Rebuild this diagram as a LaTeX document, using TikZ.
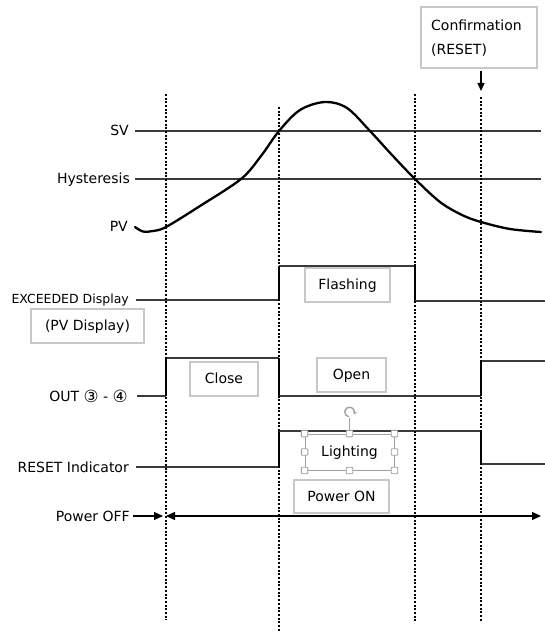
\documentclass[tikz,border=0pt]{standalone}
\usepackage{fontspec}
\setmainfont{DejaVu Sans}
\usetikzlibrary{arrows.meta}
\definecolor{boxgray}{HTML}{C8C8C8}
\definecolor{handlegray}{HTML}{A0A0A0}
\definecolor{sigcol}{HTML}{3A3A3A}
\newcommand{\circd}[1]{\raisebox{-0.08em}{\scalebox{1.2}{#1}}}
\begin{document}
\begin{tikzpicture}[x=1pt,y=-1pt,
  lbl/.style={anchor=base east, inner sep=0pt, font=\fontsize{14}{16}\selectfont},
  frame/.style={draw=boxgray, line width=1.3pt, inner sep=0pt},
  gbox/.style={frame, text depth=1pt, font=\fontsize{14}{16}\selectfont},
  sig/.style={draw=sigcol, line width=1.5pt},
  vedge/.style={draw=black, line width=2.4pt},
  dotline/.style={draw=black, line width=2pt, dash pattern=on 2pt off 1.7pt},
  arr/.style={-{Triangle[length=9pt,width=8pt]}, line width=1.3pt},
  handle/.style={draw=handlegray, fill=white, line width=0.9pt, rounded corners=0.8pt, minimum size=6.5pt, inner sep=0pt}
]
\useasboundingbox (0,0) rectangle (545,631);

% signal lines
\draw[sig] (135,131) -- (541,131);
\draw[sig] (135,179) -- (541,179);

% EXCEEDED display
\draw[sig] (136,300) -- (279,300);
\draw[vedge] (279,300) -- (279,266);
\draw[sig] (279,266) -- (415,266);
\draw[vedge] (415,266) -- (415,301);
\draw[sig] (415,301) -- (545,301);

% OUT
\draw[sig] (137,396) -- (166,396);
\draw[vedge] (166,396) -- (166,358);
\draw[sig] (166,358) -- (279,358);
\draw[vedge] (279,358) -- (279,396);
\draw[sig] (279,396) -- (481,396);
\draw[vedge] (481,396) -- (481,361);
\draw[sig] (481,361) -- (545,361);

% RESET indicator
\draw[sig] (136,467) -- (279,467);
\draw[vedge] (279,467) -- (279,431);
\draw[sig] (279,431) -- (481,431);
\draw[vedge] (481,431) -- (481,464);
\draw[sig] (481,464) -- (545,464);

% dotted time markers
\coordinate (d1t) at (166,94);  \coordinate (d1b) at (166,620);
\coordinate (d2t) at (279,107); \coordinate (d2b) at (279,631);
\coordinate (d3t) at (415,94);  \coordinate (d3b) at (415,622);
\coordinate (d4t) at (481,97);  \coordinate (d4b) at (481,622);
\draw[dotline] (d1t) -- (d1b);
\draw[dotline] (d2t) -- (d2b);
\draw[dotline] (d3t) -- (d3b);
\draw[dotline] (d4t) -- (d4b);

% PV curve
\draw[black, line width=2.3pt, line cap=round] plot[smooth, tension=0.55] coordinates {(135,227) (143,231.5) (153,231) (166,227) (200,206) (241,179) (261,156) (279,131) (300,110) (325,102) (347,108) (370,131) (392,155) (415,179) (440,202) (462,215) (481,222) (510,229) (541,232)};

% labels
\node[lbl] (sv) at (129,136) {SV};
\node[lbl] (hys) at (130,183) {Hysteresis};
\node[lbl] (pv) at (128,231) {PV};
\node[lbl, font=\fontsize{12.5}{14}\selectfont] (exc) at (129,303) {EXCEEDED Display};
\node[lbl] (out) at (128,401) {OUT \circd{③} - \circd{④}};
\node[lbl] (rst) at (129,472) {RESET Indicator};
\node[lbl] (poff) at (130,521) {Power OFF};

% boxes
\node[frame, minimum width=116pt, minimum height=61pt] (conf) at (479,37.5) {};
\node[anchor=base west, inner sep=0pt, font=\fontsize{14}{16}\selectfont] (conft1) at (431,31) {Confirmation};
\node[anchor=base west, inner sep=0pt, font=\fontsize{14}{16}\selectfont] (conft2) at (431,55) {(RESET)};
\node[gbox, minimum width=85pt, minimum height=34pt] (flash) at (347.5,285) {Flashing};
\node[gbox, minimum width=113pt, minimum height=34pt] (pvd) at (87.5,326) {(PV Display)};
\node[gbox, minimum width=68pt, minimum height=34pt] (close) at (224,379) {Close};
\node[gbox, minimum width=69pt, minimum height=34pt] (open) at (351.5,375) {Open};
\node[gbox, minimum width=95pt, minimum height=33pt] (pon) at (341.5,496.5) {Power ON};
\node[draw=handlegray, line width=0.9pt, inner sep=0pt, text depth=1pt, minimum width=89pt, minimum height=36pt, font=\fontsize{14}{16}\selectfont] (light) at (349.5,452) {Lighting};
\foreach \a [count=\i] in {north west, north, north east, west, east, south west, south, south east}
  \node[handle] (h\i) at (light.\a) {};
\node[circle, minimum size=11pt, inner sep=0pt] (rotc) at (349.5,412) {};
\draw[handlegray, line width=0.9pt] (rotc.south) -- (h2.north);
\draw[handlegray, line width=1.4pt, -{Stealth[length=3.5pt,width=4.5pt]}] (rotc.center) ++(100:4.8) arc[start angle=100, end angle=390, radius=4.8];

% arrows
\coordinate (ca) at (481,71);
\coordinate (cb) at (481,91);
\draw[arr, -{Triangle[length=8pt,width=7pt]}] (ca) -- (cb);
\coordinate (pa) at (133,516);
\coordinate (pb) at (163,516);
\coordinate (pc) at (166,516);
\coordinate (pd) at (541,516);
\draw[arr] (pa) -- (pb);
\draw[{Triangle[length=9pt,width=8pt]}-{Triangle[length=9pt,width=8pt]}, line width=1.3pt] (pc) -- (pd);
\end{tikzpicture}
\end{document}
